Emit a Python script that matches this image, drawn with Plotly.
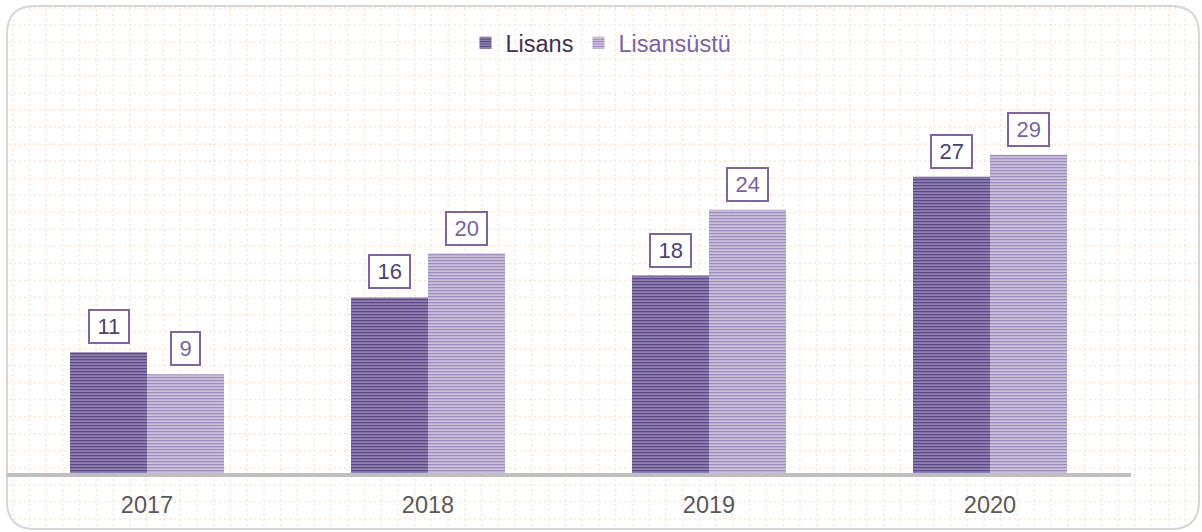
import plotly.graph_objects as go

W, H = 1202, 532

# ---- data ----
years = ["2017", "2018", "2019", "2020"]
lisans = [11, 16, 18, 27]
lisansustu = [9, 20, 24, 29]
series_names = ["Lisans", "Lisansüstü"]

# ---- style ----
FONT = "Arial, Liberation Sans, sans-serif"
dark_fg, dark_bg = "#4f3b7a", "#b9add3"
light_fg, light_bg = "#9280b6", "#f0ebf6"
label_dark, label_light = "#4e3f74", "#7a62a3"
box_border = "#8064a2"

def px(x):
    return x / W

def py(y):
    return 1 - y / H

x_dom = [px(6.5), px(1130.5)]
y_dom = [py(473), py(34.2)]
y_max = 40
bargap = 0.452

fig = go.Figure()
fig.add_trace(go.Bar(
    x=years, y=lisans, name=series_names[0],
    marker=dict(color=dark_bg, line=dict(width=0),
                pattern=dict(shape="-", fgcolor=dark_fg, bgcolor=dark_bg,
                             size=3, solidity=0.6, fillmode="replace")),
))
fig.add_trace(go.Bar(
    x=years, y=lisansustu,
    name=f"<span style='color:{label_light}'>{series_names[1]}</span>",
    marker=dict(color=light_bg, line=dict(width=0),
                pattern=dict(shape="-", fgcolor=light_fg, bgcolor=light_bg,
                             size=3, solidity=0.6, fillmode="replace")),
))

# ---- value labels (boxed) ----
plot_w = (x_dom[1] - x_dom[0]) * W
cat_w = plot_w / len(years)
bar_w = cat_w * (1 - bargap) / 2
annotations = []
for i, (vals, col) in enumerate([(lisans, label_dark), (lisansustu, label_light)]):
    shift = (i - 0.5) * bar_w
    for idx, v in enumerate(vals):
        annotations.append(dict(
            x=idx, y=v, xref="x", yref="y", text=f"\u2009{v}\u2009",
            showarrow=False, xshift=shift, yshift=8, yanchor="bottom",
            font=dict(family=FONT, size=22, color=col),
            bordercolor=box_border, borderwidth=2, borderpad=3,
            bgcolor="white",
        ))

# ---- background dotted grid and rounded frame ----
shapes = []
gx0, gdx = 12.7, 16.75
gy0, gdy = 8.0, 17.03
k = 0
while gx0 + k * gdx < 1198:
    x = gx0 + k * gdx
    shapes.append(dict(type="line", xref="paper", yref="paper",
                       x0=px(x), x1=px(x), y0=py(9), y1=py(527),
                       line=dict(color="#fde2cc", width=1.3, dash="2px,3px"),
                       layer="below"))
    k += 1
k = 0
while gy0 + k * gdy < 528:
    y = gy0 + k * gdy
    shapes.append(dict(type="line", xref="paper", yref="paper",
                       x0=px(9), x1=px(1198), y0=py(y), y1=py(y),
                       line=dict(color="#fde2cc", width=1.3, dash="2px,3px"),
                       layer="below"))
    k += 1

# mask outside the rounded frame + frame stroke
L, T, R, B, r = 7, 6, 1199, 529, 28
def rounded(L, T, R, B, r):
    pts = [
        f"M{px(L + r)},{py(T)}", f"L{px(R - r)},{py(T)}",
        f"Q{px(R)},{py(T)} {px(R)},{py(T + r)}",
        f"L{px(R)},{py(B - r)}",
        f"Q{px(R)},{py(B)} {px(R - r)},{py(B)}",
        f"L{px(L + r)},{py(B)}",
        f"Q{px(L)},{py(B)} {px(L)},{py(B - r)}",
        f"L{px(L)},{py(T + r)}",
        f"Q{px(L)},{py(T)} {px(L + r)},{py(T)}", "Z",
    ]
    return " ".join(pts)

outer = "M0,0 L1,0 L1,1 L0,1 Z "
shapes.append(dict(type="path", xref="paper", yref="paper",
                   path=outer + rounded(L, T, R, B, r), fillrule="evenodd",
                   fillcolor="white", line=dict(width=0), layer="below"))
shapes.append(dict(type="path", xref="paper", yref="paper",
                   path=rounded(L, T, R, B, r),
                   line=dict(color="#d6d6d6", width=2), layer="below"))

fig.update_layout(
    width=W, height=H,
    margin=dict(l=0, r=0, t=0, b=0, pad=0, autoexpand=False),
    paper_bgcolor="white", plot_bgcolor="rgba(0,0,0,0)",
    barmode="group", bargap=bargap, bargroupgap=0,
    font=dict(family=FONT, size=23.5, color="#3f3151"),
    showlegend=True,
    legend=dict(orientation="h", x=px(601), xanchor="center",
                y=py(43), yanchor="middle", bgcolor="rgba(0,0,0,0)",
                font=dict(family=FONT, size=23.5, color="#3f3151"),
                itemwidth=30, tracegroupgap=0),
    xaxis=dict(type="category", domain=x_dom, range=[-0.5, len(years) - 0.5],
               showgrid=False, zeroline=False,
               showline=True, linecolor="#bfbfbf", linewidth=4,
               ticks="outside", ticklen=8, tickcolor="rgba(0,0,0,0)",
               tickfont=dict(family=FONT, size=23.5, color="#595959"),
               automargin=False),
    yaxis=dict(domain=y_dom, range=[0, y_max], visible=False,
               showgrid=False, zeroline=False, automargin=False),
    annotations=annotations,
    shapes=shapes,
)

fig.write_html("out.html", config={"displayModeBar": False},
               post_script="document.body.style.margin='0';")
